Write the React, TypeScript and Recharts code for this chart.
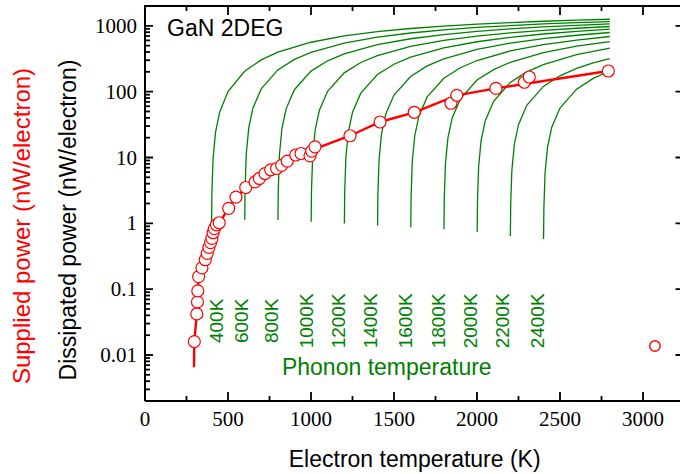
import {
  ComposedChart,
  Line,
  Scatter,
  XAxis,
  YAxis,
  ReferenceDot,
} from 'recharts';

// supplied power per electron: [electron temperature (K), nW/electron]
const suppliedPoints = [
  [297, 0.016], [312, 0.042], [316, 0.064], [318, 0.094], [323, 0.155],
  [343, 0.21], [363, 0.28], [375, 0.35], [385, 0.43], [395, 0.51],
  [403, 0.59], [410, 0.72], [418, 0.83], [430, 0.95], [447, 1.02],
  [504, 1.69], [548, 2.5], [607, 3.5], [663, 4.25], [689, 4.8],
  [723, 5.7], [757, 6.5], [793, 6.8], [823, 7.6], [857, 8.8],
  [908, 10.9], [940, 11.5], [994, 10.6], [1004, 12.5], [1024, 14.5],
  [1235, 21.4], [1416, 34.6], [1622, 48.6], [1843, 66.7], [1878, 88],
  [2114, 112], [2285, 139], [2315, 167], [2791, 206],
];

// single point measured at the highest bias
const outlierPoints = [[3072, 0.0137]];

// guide curve through the supplied-power data
const suppliedFit = [
  [295, 0.0065], [297, 0.016], [312, 0.042], [323, 0.155], [343, 0.21],
  [400, 0.55], [447, 1.02], [504, 1.69], [548, 2.5], [607, 3.4],
  [700, 5.0], [800, 7.0], [900, 9.8], [1024, 13.5], [1235, 21.4],
  [1416, 34.6], [1622, 48.6], [1878, 88], [2114, 112], [2791, 206],
];

// dissipated power for each phonon temperature
const phonon400 = [
  [400.3, 0.29], [401, 0.95], [403, 2.86], [410, 9.57], [425, 24.2], [450, 49.1],
  [500, 100.4], [600, 204], [700, 304], [800, 398], [1000, 563], [1200, 701],
  [1400, 815], [1600, 910], [1800, 991], [2000, 1061], [2200, 1120], [2400, 1173],
  [2600, 1218], [2800, 1259],
];
const phonon600 = [
  [601, 1.13], [603, 3.39], [610, 11.3], [625, 28.1], [650, 56], [700, 110],
  [800, 214], [900, 309], [1000, 396], [1200, 547], [1400, 673], [1600, 778],
  [1800, 868], [2000, 944], [2200, 1010], [2400, 1067], [2600, 1118], [2800, 1162],
];
const phonon800 = [
  [801, 1.12], [803, 3.35], [810, 11.1], [825, 27.7], [850, 54.8], [900, 107],
  [1000, 205], [1100, 294], [1200, 376], [1400, 518], [1600, 636], [1800, 737],
  [2000, 823], [2200, 897], [2400, 962], [2600, 1019], [2800, 1069],
];
const phonon1000 = [
  [1001, 1.06], [1003, 3.16], [1010, 10.5], [1025, 26.1], [1050, 51.6], [1100, 101],
  [1200, 193], [1300, 277], [1400, 353], [1600, 487], [1800, 601], [2000, 698],
  [2200, 782], [2400, 855], [2600, 919], [2800, 976],
];
const phonon1200 = [
  [1201, 0.99], [1203, 2.98], [1210, 9.89], [1225, 24.6], [1250, 48.6], [1300, 95],
  [1400, 182], [1500, 261], [1600, 334], [1800, 463], [2000, 573], [2200, 668],
  [2400, 751], [2600, 824], [2800, 888],
];
const phonon1400 = [
  [1401, 0.93], [1403, 2.78], [1410, 9.24], [1425, 23], [1450, 45.4], [1500, 88.9],
  [1600, 170], [1700, 246], [1800, 315], [2000, 438], [2200, 545], [2400, 637],
  [2600, 719], [2800, 791],
];
const phonon1600 = [
  [1601, 0.87], [1603, 2.6], [1610, 8.63], [1625, 21.4], [1650, 42.4], [1700, 83.2],
  [1800, 160], [1900, 231], [2000, 297], [2200, 415], [2400, 518], [2600, 608],
  [2800, 688],
];
const phonon1800 = [
  [1801, 0.81], [1803, 2.41], [1810, 8.03], [1825, 20], [1850, 39.5], [1900, 77.6],
  [2000, 150], [2100, 216], [2200, 279], [2400, 391], [2600, 490], [2800, 577],
];
const phonon2000 = [
  [2001, 0.74], [2003, 2.22], [2010, 7.37], [2025, 18.3], [2050, 36.3], [2100, 71.4],
  [2200, 138], [2300, 200], [2400, 258], [2600, 364], [2800, 457],
];
const phonon2200 = [
  [2201, 0.64], [2203, 1.92], [2210, 6.38], [2225, 15.9], [2250, 31.5], [2300, 61.9],
  [2400, 120], [2500, 174], [2600, 225], [2700, 273], [2800, 318],
];
const phonon2400 = [
  [2401, 0.58], [2403, 1.74], [2410, 5.8], [2425, 14.4], [2450, 28.6], [2500, 56.4],
  [2600, 109], [2700, 159], [2800, 206],
];

const phononTemps = [400, 600, 800, 1000, 1200, 1400, 1600, 1800, 2000, 2200, 2400];
const phononSets = [
  phonon400, phonon600, phonon800, phonon1000, phonon1200, phonon1400,
  phonon1600, phonon1800, phonon2000, phonon2200, phonon2400,
];

const xMajor = [0, 500, 1000, 1500, 2000, 2500, 3000];
const xMinor = [250, 750, 1250, 1750, 2250, 2750];
const yMajor = [0.01, 0.1, 1, 10, 100, 1000];
const yMinor = [
  0.002, 0.003, 0.004, 0.005, 0.006, 0.007, 0.008, 0.009,
  0.02, 0.03, 0.04, 0.05, 0.06, 0.07, 0.08, 0.09,
  0.2, 0.3, 0.4, 0.5, 0.6, 0.7, 0.8, 0.9,
  2, 3, 4, 5, 6, 7, 8, 9,
  20, 30, 40, 50, 60, 70, 80, 90,
  200, 300, 400, 500, 600, 700, 800, 900,
];

const toPoints = (pairs: number[][]) => pairs.map(([te, p]) => ({ te, p }));

const X_DOMAIN: [number, number] = [0, 3250];
const Y_DOMAIN: [number, number] = [0.002, 2000];
const CHART_W = 700;
const CHART_H = 474;
const MARGIN = { top: 6, right: 15.5, bottom: 0, left: 0 };
const Y_AXIS_W = 145;
const X_AXIS_H = 73;

// plot rectangle, used for the frame and tick marks
const PLOT = {
  left: MARGIN.left + Y_AXIS_W,
  top: MARGIN.top,
  right: CHART_W - MARGIN.right,
  bottom: CHART_H - MARGIN.bottom - X_AXIS_H,
};
const px = (v: number) =>
  PLOT.left + ((v - X_DOMAIN[0]) / (X_DOMAIN[1] - X_DOMAIN[0])) * (PLOT.right - PLOT.left);
const py = (v: number) =>
  PLOT.bottom -
  ((Math.log10(v) - Math.log10(Y_DOMAIN[0])) / (Math.log10(Y_DOMAIN[1]) - Math.log10(Y_DOMAIN[0]))) *
    (PLOT.bottom - PLOT.top);

const GREEN = '#008000';
const RED = '#ff0000';
const SANS = '"Liberation Sans", Arial, sans-serif';
const SERIF = '"Liberation Serif", "Times New Roman", serif';

// where the phonon temperature tags sit (electron temperature, power)
const tagTe = [428, 582, 763, 974, 1164, 1361, 1572, 1767, 1962, 2155, 2363];
const tagP = 0.033;

function XTick(props: any) {
  const { x, y, payload } = props;
  return (
    <text x={x} y={y + 25} textAnchor="middle" fill="#000" fontSize={21} fontFamily={SERIF}>
      {String(payload.value)}
    </text>
  );
}

function YTick(props: any) {
  const { x, y, payload } = props;
  return (
    <text x={x - 8} y={y} dy="0.34em" textAnchor="end" fill="#000" fontSize={21} fontFamily={SERIF}>
      {String(payload.value)}
    </text>
  );
}

function YTitles() {
  return (
    <g fontFamily={SANS}>
      <text x={29.5} y={226} transform="rotate(-90 29.5 226)" textAnchor="middle" fill={RED} fontSize={24}>
        Supplied power (nW/electron)
      </text>
      <text x={76} y={220} transform="rotate(-90 76 220)" textAnchor="middle" fill="#000" fontSize={23}>
        Dissipated power (nW/electron)
      </text>
    </g>
  );
}

// x title, plus inward tick marks on all four sides
function XTitle() {
  const s = { stroke: '#000', strokeWidth: 1.8 };
  return (
    <g>
      {[...xMajor.slice(1), ...xMinor].map((v) => {
        const len = xMajor.includes(v) ? 9 : 5;
        const x = px(v);
        return (
          <path key={`xt-${v}`} d={`M${x},${PLOT.bottom}v${-len}M${x},${PLOT.top}v${len}`} fill="none" {...s} />
        );
      })}
      {[...yMajor, ...yMinor].map((v) => {
        const major = yMajor.includes(v);
        const y = py(v);
        const d = major
          ? `M${PLOT.left},${y}h8M${PLOT.right},${y}h-9`
          : `M${PLOT.left},${y}h5`;
        return <path key={`yt-${v}`} d={d} fill="none" {...s} />;
      })}
      <text x={414.7} y={467} textAnchor="middle" fill="#000" fontSize={23} fontFamily={SANS}>
        Electron temperature (K)
      </text>
    </g>
  );
}

const circle = (r: number, sw: number) => (props: any) => (
  <circle cx={props.cx} cy={props.cy} r={r} fill="#fff" stroke={RED} strokeWidth={sw} />
);

const axisLineStyle = { stroke: '#000', strokeWidth: 2 };

export default function App() {
  return (
    <div style={{ position: 'relative', width: 680, height: CHART_H, overflow: 'hidden', background: '#fff' }}>
      <style>{'body{margin:0}'}</style>
      <ComposedChart width={CHART_W} height={CHART_H} margin={MARGIN}>
        <XAxis
          xAxisId="x"
          dataKey="te"
          type="number"
          domain={X_DOMAIN}
          allowDataOverflow
          ticks={xMajor}
          interval={0}
          height={X_AXIS_H}
          tickLine={false}
          tickSize={0}
          tickMargin={0}
          axisLine={axisLineStyle}
          tick={XTick}
          label={<XTitle />}
        />
        <YAxis
          yAxisId="y"
          dataKey="p"
          type="number"
          scale="log"
          domain={Y_DOMAIN}
          allowDataOverflow
          ticks={yMajor}
          interval={0}
          width={Y_AXIS_W}
          tickLine={false}
          tickSize={0}
          tickMargin={0}
          axisLine={axisLineStyle}
          tick={YTick}
          label={<YTitles />}
        />

        {phononSets.map((set, i) => (
          <Line
            key={`ph-${phononTemps[i]}`}
            xAxisId="x"
            yAxisId="y"
            data={toPoints(set)}
            dataKey="p"
            type="linear"
            stroke={GREEN}
            strokeWidth={1.3}
            dot={false}
            activeDot={false}
            isAnimationActive={false}
          />
        ))}

        <Line
          xAxisId="x"
          yAxisId="y"
          data={toPoints(suppliedFit)}
          dataKey="p"
          type="linear"
          stroke={RED}
          strokeWidth={2.4}
          dot={false}
          activeDot={false}
          isAnimationActive={false}
        />
        <Scatter xAxisId="x" yAxisId="y" data={toPoints(suppliedPoints)} dataKey="p"
          shape={circle(6, 1.2)} isAnimationActive={false} />
        <Scatter xAxisId="x" yAxisId="y" data={toPoints(outlierPoints)} dataKey="p"
          shape={circle(5.2, 1.4)} isAnimationActive={false} />

        {phononTemps.map((t, i) => (
          <ReferenceDot
            key={`tag-${t}`}
            xAxisId="x"
            yAxisId="y"
            x={tagTe[i]}
            y={tagP}
            r={0}
            shape={(p: any) => (
              <text
                x={p.cx}
                y={p.cy}
                transform={`rotate(-90 ${p.cx} ${p.cy})`}
                textAnchor="middle"
                dominantBaseline="central"
                fill={GREEN}
                fontSize={19}
                fontFamily={SANS}
              >
                {`${t}K`}
              </text>
            )}
          />
        ))}
        <ReferenceDot
          xAxisId="x"
          yAxisId="y"
          x={825}
          y={0.00497}
          r={0}
          shape={(p: any) => (
            <text x={p.cx} y={p.cy} fill={GREEN} fontSize={23} fontFamily={SANS}>
              Phonon temperature
            </text>
          )}
        />
        <ReferenceDot
          xAxisId="x"
          yAxisId="y"
          x={133}
          y={700}
          r={0}
          shape={(p: any) => (
            <text x={p.cx} y={p.cy} fill="#000" fontSize={23} fontFamily={SANS}>
              GaN 2DEG
            </text>
          )}
        />
      </ComposedChart>
      {/* top and right sides of the plot frame */}
      <div
        style={{
          position: 'absolute',
          left: PLOT.left - 1,
          top: PLOT.top - 1,
          width: PLOT.right - PLOT.left,
          height: PLOT.bottom - PLOT.top,
          borderTop: '2px solid #000',
          borderRight: '2px solid #000',
          pointerEvents: 'none',
        }}
      />
    </div>
  );
}
